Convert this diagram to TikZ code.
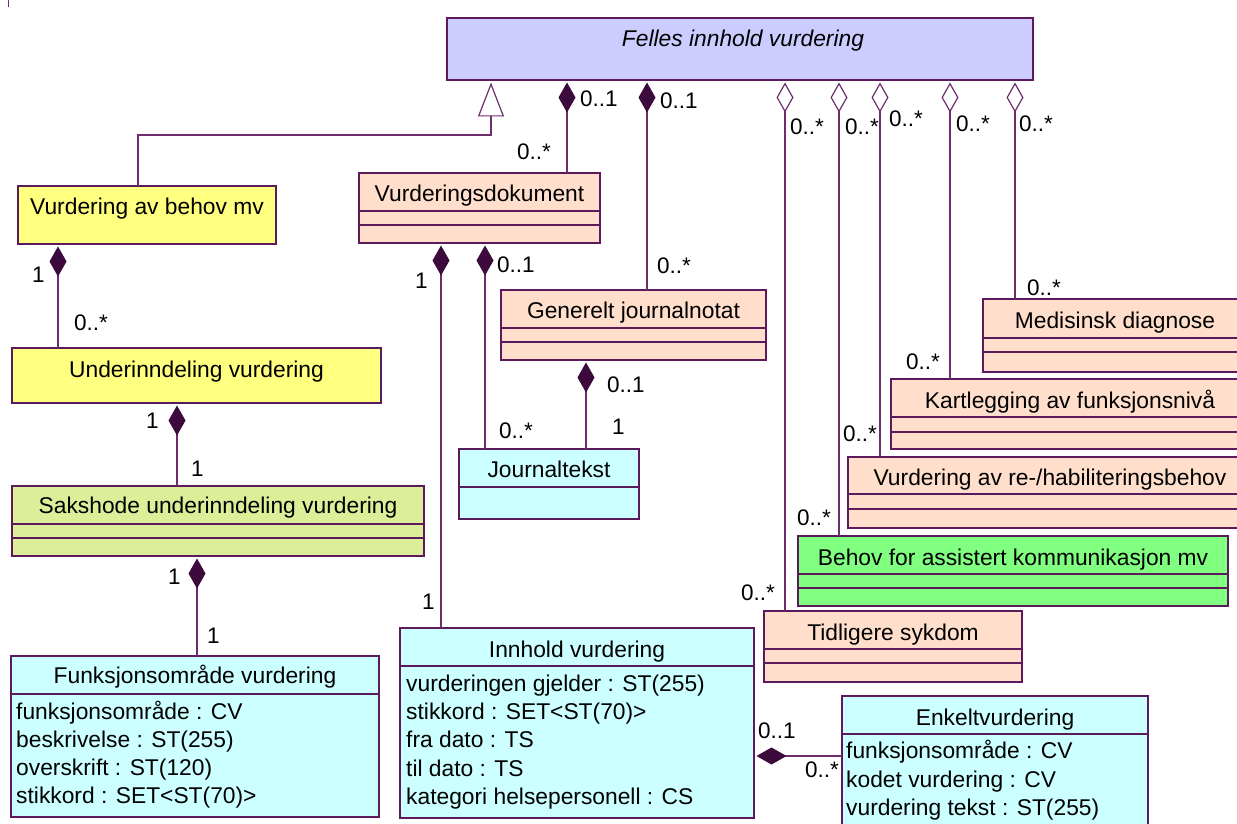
\documentclass[tikz,border=0pt]{standalone}
\usepackage{fontspec}
\setmainfont{Liberation Sans}
\usetikzlibrary{arrows.meta}
\definecolor{bord}{HTML}{5C1A5C}
\definecolor{lnc}{HTML}{6E2E6E}
\definecolor{dia}{HTML}{3C0A3C}
\definecolor{cfel}{HTML}{CCCCFF}
\definecolor{cyel}{HTML}{FFFF80}
\definecolor{cpea}{HTML}{FFDFCC}
\definecolor{ccya}{HTML}{CCFFFF}
\definecolor{cgrn}{HTML}{80FF80}
\definecolor{csak}{HTML}{DDEE99}
\tikzset{
  clsbox/.style={draw=bord, line width=1.3pt, inner sep=0pt, outer sep=0pt, anchor=north west},
  sepl/.style={draw=bord, line width=1.1pt},
  txt/.style={inner sep=0pt, font=\fontsize{22.8}{27}\selectfont},
  ml/.style={inner sep=0pt, font=\fontsize{22.5}{27}\selectfont, anchor=base west},
  conn/.style={draw=lnc, line width=1.2pt},
  comp/.style={conn, shorten <=2.5pt, {Diamond[length=30pt,width=17pt,fill=dia,color=dia]}-},
  agg/.style={conn, shorten <=2.5pt, {Diamond[open,length=30pt,width=17pt,fill=white,color=lnc,line width=1.2pt]}-},
  gen/.style={conn, shorten <=2.5pt, {Triangle[open,length=34pt,width=26pt,fill=white,color=lnc,line width=1.2pt]}-}
}
\newcommand\clsnode[6]{\node[clsbox, fill=#6, minimum width={#4-#2}, minimum height={#5-#3}] (#1) at (#2,#3) {};}
\newcommand\sepat[2]{\draw[sepl] (#1.west |- 0,#2) -- (#1.east |- 0,#2);}
\newcommand\ctitle[4]{\node[txt, anchor=base] (#1) at (#2.north |- 0,#3) {#4};}
\begin{document}
\begin{tikzpicture}[x=1pt,y=-1pt]
\useasboundingbox (0,0) rectangle (1237,824);
\fill[white] (0,0) rectangle (1237,824);
\draw[lnc, line width=1pt] (8,0) -- (8,7);

% classes
\clsnode{felles}{447}{18}{1033}{80}{cfel}
\node[txt, anchor=base] (fellest) at (743,47) {\itshape Felles innhold vurdering};

\clsnode{vbehov}{18}{186}{276}{244}{cyel}
\ctitle{vbehovt}{vbehov}{214}{Vurdering av behov mv}

\clsnode{vdok}{359}{173}{600}{243}{cpea}
\sepat{vdok}{211}\sepat{vdok}{225}
\ctitle{vdokt}{vdok}{201}{Vurderingsdokument}

\clsnode{gen}{501}{290}{766}{360}{cpea}
\sepat{gen}{328}\sepat{gen}{342}
\ctitle{gent}{gen}{318}{Generelt journalnotat}

\clsnode{jtekst}{459}{449}{639}{519}{ccya}
\sepat{jtekst}{487}
\ctitle{jtekstt}{jtekst}{477}{Journaltekst}

\clsnode{medis}{983}{299}{1250}{372}{cpea}
\sepat{medis}{338}\sepat{medis}{352}
\node[txt, anchor=base] (medist) at (1115,328) {Medisinsk diagnose};

\clsnode{kart}{891}{379}{1250}{449}{cpea}
\sepat{kart}{417}\sepat{kart}{432}
\node[txt, anchor=base] (kartt) at (1070,408) {Kartlegging av funksjonsnivå};

\clsnode{rehab}{848}{457}{1252}{528}{cpea}
\sepat{rehab}{494}\sepat{rehab}{509}
\node[txt, anchor=base] (rehabt) at (1050,485) {Vurdering av re-/habiliteringsbehov};

\clsnode{behov}{798}{536}{1228}{606}{cgrn}
\sepat{behov}{574}\sepat{behov}{588}
\ctitle{behovt}{behov}{565}{Behov for assistert kommunikasjon mv}

\clsnode{tidl}{764}{611}{1022}{682}{cpea}
\sepat{tidl}{649}\sepat{tidl}{663}
\ctitle{tidlt}{tidl}{640}{Tidligere sykdom}

\clsnode{under}{12}{348}{381}{403}{cyel}
\ctitle{undert}{under}{377}{Underinndeling vurdering}

\clsnode{sak}{12}{486}{424}{556}{csak}
\sepat{sak}{524}\sepat{sak}{538}
\ctitle{sakt}{sak}{513}{Sakshode underinndeling vurdering}

\clsnode{funk}{11}{656}{379}{817}{ccya}
\sepat{funk}{694}
\ctitle{funkt}{funk}{683}{Funksjonsområde vurdering}
\node[txt, anchor=base west] (funka1) at (16,719) {funksjonsområde : CV};
\node[txt, anchor=base west] (funka2) at (16,747) {beskrivelse : ST(255)};
\node[txt, anchor=base west] (funka3) at (16,775) {overskrift : ST(120)};
\node[txt, anchor=base west] (funka4) at (16,803) {stikkord : SET<ST(70)>};

\clsnode{innh}{400}{628}{754}{818}{ccya}
\sepat{innh}{666}
\ctitle{innht}{innh}{657}{Innhold vurdering}
\node[txt, anchor=base west] (innha1) at (406,691) {vurderingen gjelder : ST(255)};
\node[txt, anchor=base west] (innha2) at (406,719) {stikkord : SET<ST(70)>};
\node[txt, anchor=base west] (innha3) at (406,747) {fra dato : TS};
\node[txt, anchor=base west] (innha4) at (406,776) {til dato : TS};
\node[txt, anchor=base west] (innha5) at (406,804) {kategori helsepersonell : CS};

\clsnode{enk}{842}{696}{1148}{832}{ccya}
\sepat{enk}{734}
\ctitle{enkt}{enk}{725}{Enkeltvurdering}
\node[txt, anchor=base west] (enka1) at (846,758) {funksjonsområde : CV};
\node[txt, anchor=base west] (enka2) at (846,787) {kodet vurdering : CV};
\node[txt, anchor=base west] (enka3) at (846,815) {vurdering tekst : ST(255)};

% connectors
\draw[gen] (felles.south -| 491,0) -- (491,135) -- (138,135) -- (vbehov.north -| 138,0);
\draw[comp] (felles.south -| 567,0) -- (vdok.north -| 567,0);
\draw[comp] (felles.south -| 647,0) -- (gen.north -| 647,0);
\draw[agg] (felles.south -| 785,0) -- (tidl.north -| 785,0);
\draw[agg] (felles.south -| 839,0) -- (behov.north -| 839,0);
\draw[agg] (felles.south -| 880,0) -- (rehab.north -| 880,0);
\draw[agg] (felles.south -| 950,0) -- (kart.north -| 950,0);
\draw[agg] (felles.south -| 1015,0) -- (medis.north -| 1015,0);
\draw[comp] (vbehov.south -| 58,0) -- (under.north -| 58,0);
\draw[comp] (vdok.south -| 441,0) -- (innh.north -| 441,0);
\draw[comp] (vdok.south -| 485,0) -- (jtekst.north -| 485,0);
\draw[comp] (gen.south -| 586,0) -- (jtekst.north -| 586,0);
\draw[comp] (under.south -| 177,0) -- (sak.north -| 177,0);
\draw[comp] (sak.south -| 197,0) -- (funk.north -| 197,0);
\draw[comp] (innh.east |- 0,756) -- (enk.west |- 0,756);

% multiplicities
\node[ml] (m1) at (580,107) {0..1};
\node[ml] (m2) at (517,160) {0..*};
\node[ml] (m3) at (660,109) {0..1};
\node[ml] (m4) at (657,273) {0..*};
\node[ml] (m5) at (790,135) {0..*};
\node[ml] (m6) at (845,135) {0..*};
\node[ml] (m7) at (889,127) {0..*};
\node[ml] (m8) at (956,132) {0..*};
\node[ml] (m9) at (1019,132) {0..*};
\node[ml] (m10) at (1027,295) {0..*};
\node[ml] (m11) at (906,369) {0..*};
\node[ml] (m12) at (843,441) {0..*};
\node[ml] (m13) at (797,525) {0..*};
\node[ml] (m14) at (741,600) {0..*};
\node[ml] (m15) at (32,282) {1};
\node[ml] (m16) at (74,330) {0..*};
\node[ml] (m17) at (415,288) {1};
\node[ml] (m18) at (497,272) {0..1};
\node[ml] (m19) at (499,438) {0..*};
\node[ml] (m20) at (607,392) {0..1};
\node[ml] (m21) at (612,434) {1};
\node[ml] (m22) at (146,428) {1};
\node[ml] (m23) at (191,476) {1};
\node[ml] (m24) at (168,584) {1};
\node[ml] (m25) at (207,643) {1};
\node[ml] (m26) at (422,609) {1};
\node[ml] (m27) at (758,738) {0..1};
\node[ml] (m28) at (805,777) {0..*};
\end{tikzpicture}
\end{document}
